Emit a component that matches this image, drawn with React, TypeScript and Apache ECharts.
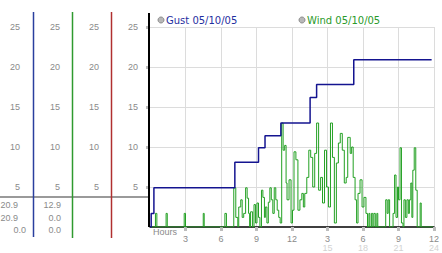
import React, { useEffect, useRef } from "react";
import * as echarts from "echarts";

// Gust (step line) – hour of day, value
const gustHours = [0, 0.1, 0.33, 7.17, 9.17, 9.72, 11.06, 13.53, 14.08, 17.22, 23.8];
const gustValues = [0, 1.7, 4.9, 8.1, 9.9, 11.4, 13.0, 16.2, 17.8, 20.9, 20.9];

// Wind (step line) – hour of day, value
const windHours = [
  0, 0.33, 0.46, 0.58, 1.25, 1.36, 1.46, 2.79, 2.89, 3.0, 4.42, 4.5, 4.58, 6.21, 6.33, 6.46,
  6.92, 7.08, 7.25, 7.42, 7.5, 7.67, 7.79, 7.92, 8.08, 8.21, 8.33, 8.42, 8.5, 8.67, 8.79, 8.92,
  9.04, 9.17, 9.29, 9.42, 9.54, 9.67, 9.75, 9.88, 10.0, 10.13, 10.25, 10.38, 10.5, 10.63, 10.75,
  10.88, 11.0, 11.13, 11.25, 11.38, 11.5, 11.58, 11.75, 11.92, 12.04, 12.17, 12.33, 12.5, 12.67,
  12.83, 12.96, 13.08, 13.25, 13.42, 13.58, 13.75, 13.92, 14.08, 14.25, 14.42, 14.58, 14.75,
  14.92, 15.08, 15.25, 15.42, 15.58, 15.75, 15.92, 16.08, 16.25, 16.42, 16.58, 16.71, 16.83,
  16.92, 17.04, 17.17, 17.33, 17.46, 17.58, 17.75, 17.92, 18.08, 18.25, 18.38, 18.5, 18.58,
  18.71, 18.83, 18.92, 19.04, 19.17, 19.25, 19.83, 19.92, 20.04, 20.13, 20.25, 20.42, 20.54,
  20.67, 20.79, 20.92, 21.0, 21.13, 21.25, 21.38, 21.46, 21.58, 21.71, 21.83, 21.92, 22.04,
  22.13, 22.21, 22.33, 22.46, 22.58, 22.67, 22.83, 22.92, 23.92,
];
const windValues = [
  0, 0, 1.7, 0, 0, 1.7, 0, 0, 1.7, 0, 0, 1.7, 0, 0, 1.7, 0,
  0, 4.9, 1.2, 0, 2.5, 3.4, 1.2, 1.7, 4.9, 3.6, 1.7, 0, 1.9, 0, 2.8, 0.5,
  3.0, 1.2, 0, 4.6, 3.7, 1.2, 2.5, 0.5, 3.1, 4.9, 3.4, 1.7, 4.9, 3.4, 2.1,
  1.2, 0.5, 13, 9.6, 10.2, 5.5, 3.4, 5.9, 0.5, 2.1, 9.4, 8.4, 2.1, 3.4,
  4.2, 2.5, 4.2, 6.2, 9.6, 8.7, 5.0, 9.2, 13, 4.6, 6.2, 3.0, 9.6,
  5.0, 2.5, 13, 8.7, 0.5, 8.0, 10.5, 11.7, 9.6, 5.5, 6.2, 11.2, 11.2,
  9.2, 10, 6.2, 3.4, 0.5, 4.2, 5.9, 2.5, 3.7, 1.7, 0, 1.7, 0,
  1.7, 0, 1.7, 0, 1.7, 0, 0, 3.4, 1.7, 3.4, 0, 0, 1.7,
  6.5, 1.2, 5.0, 3.4, 9.9, 0.5, 0, 3.4, 1.2, 3.4, 1.7, 3.4, 5.5,
  1.2, 7.1, 9.9, 4.6, 0, 0, 3.0, 0, 0,
];

const yTicks = [5, 10, 15, 20, 25];
const xTicks = [3, 6, 9, 12, 15, 18, 21, 24];
const legendGust = "Gust 05/10/05";
const legendWind = "Wind 05/10/05";
const tableCol1 = ["20.9", "20.9", "0.0"];
const tableCol2 = ["12.9", "0.0", "0.0"];

const NUM_FONT = "Liberation Sans, Arial, sans-serif";
const LEG_FONT = "DejaVu Sans, Verdana, sans-serif";

export default function App() {
  const ref = useRef<HTMLDivElement>(null);
  useEffect(() => {
    if (!ref.current) return;
    const chart = echarts.init(ref.current, null, { renderer: "svg" });

    const mkY = (offset: number, margin: number, main: boolean) => ({
      type: "value",
      gridIndex: 0,
      position: "left",
      offset,
      min: 0,
      max: 25,
      interval: 5,
      axisLine: { show: false },
      axisTick: main
        ? { show: true, length: 4, customValues: yTicks, lineStyle: { color: "#bdbdbd", width: 3 } }
        : { show: false },
      splitLine: { show: main, lineStyle: { color: "#dcdcdc", width: 1 } },
      axisLabel: {
        show: true,
        customValues: yTicks,
        margin,
        color: "#8a8a8a",
        fontSize: 9,
        fontFamily: NUM_FONT,
      },
    });

    const lines: any[] = [
      { x: 33.5, y1: 12, y2: 237, c: "#2a3f9e", w: 1.5 },
      { x: 72.5, y1: 12, y2: 238, c: "#2f9a2f", w: 1.5 },
      { x: 111.5, y1: 12, y2: 238, c: "#b03030", w: 1.5 },
      { x: 149, y1: 13, y2: 227, c: "#000000", w: 2 },
    ].map((l) => ({
      type: "line",
      shape: { x1: l.x, y1: l.y1, x2: l.x, y2: l.y2 },
      style: { stroke: l.c, lineWidth: l.w },
      z: 10,
    }));

    const col1Right = [18, 18, 26];
    const table: any[] = [];
    tableCol1.forEach((t, i) =>
      table.push({
        type: "text",
        x: col1Right[i],
        y: 205 + i * 12.5,
        style: { text: t, fill: "#8a8a8a", font: `9px ${NUM_FONT}`, align: "right", verticalAlign: "middle" },
      })
    );
    tableCol2.forEach((t, i) =>
      table.push({
        type: "text",
        x: 61,
        y: 205 + i * 12.5,
        style: { text: t, fill: "#8a8a8a", font: `9px ${NUM_FONT}`, align: "right", verticalAlign: "middle" },
      })
    );

    chart.setOption({
      animation: false,
      backgroundColor: "#ffffff",
      grid: { left: 150, top: 27, width: 288, height: 200, containLabel: false },
      xAxis: {
        type: "value",
        min: 0,
        max: 24,
        interval: 3,
        axisLine: { show: true, lineStyle: { color: "#000", width: 1.5 } },
        axisTick: { show: true, length: 4, customValues: xTicks, lineStyle: { color: "#bdbdbd", width: 3 } },
        splitLine: { show: true, lineStyle: { color: "#dcdcdc", width: 1 } },
        axisLabel: {
          customValues: xTicks,
          margin: 7,
          showMaxLabel: true,
          formatter: (v: number) => {
            const h = v > 12 ? v - 12 : v;
            return v > 12 ? `{a|${h}}\n{b|${v}}` : `{a|${h}}`;
          },
          rich: {
            a: { color: "#8a8a8a", fontSize: 9, fontFamily: NUM_FONT, lineHeight: 9 },
            b: { color: "#d2d2d2", fontSize: 9, fontFamily: NUM_FONT, lineHeight: 9 },
          },
        },
      },
      yAxis: [mkY(0, 12, true), mkY(39, 12, false), mkY(78, 12, false), mkY(116, 14, false)],
      series: [
        {
          name: "Wind",
          type: "line",
          step: "end",
          yAxisIndex: 0,
          symbol: "none",
          data: windHours.map((h, i) => [h, windValues[i]]),
          lineStyle: { color: "#22a022", width: 1 },
          z: 3,
        },
        {
          name: "Gust",
          type: "line",
          step: "end",
          yAxisIndex: 0,
          symbol: "none",
          data: gustHours.map((h, i) => [h, gustValues[i]]),
          lineStyle: { color: "#141490", width: 1.5 },
          z: 4,
        },
      ],
      graphic: [
        {
          type: "line",
          shape: { x1: 0, y1: 197, x2: 149, y2: 197 },
          style: { stroke: "#9a9a9a", lineWidth: 2 },
          z: 5,
        },
        ...lines,
        ...table,
        {
          type: "circle",
          shape: { cx: 161, cy: 20, r: 3 },
          style: { fill: "#b8b8b8", stroke: "#8a8a8a", lineWidth: 1 },
        },
        {
          type: "text",
          x: 166,
          y: 20,
          style: { text: legendGust, fill: "#1f2f9f", font: `10px ${LEG_FONT}`, verticalAlign: "middle" },
        },
        {
          type: "circle",
          shape: { cx: 302, cy: 20, r: 3 },
          style: { fill: "#b8b8b8", stroke: "#8a8a8a", lineWidth: 1 },
        },
        {
          type: "text",
          x: 307,
          y: 20,
          style: { text: legendWind, fill: "#2a9a2a", font: `10px ${LEG_FONT}`, verticalAlign: "middle" },
        },
        {
          type: "text",
          x: 153,
          y: 232,
          style: { text: "Hours", fill: "#8a8a8a", font: `9px ${NUM_FONT}`, verticalAlign: "middle" },
        },
      ],
    });
    return () => chart.dispose();
  }, []);
  return (
    <div
      ref={ref}
      style={{ position: "absolute", left: 0, top: 0, width: 442, height: 253, background: "#fff" }}
    />
  );
}
